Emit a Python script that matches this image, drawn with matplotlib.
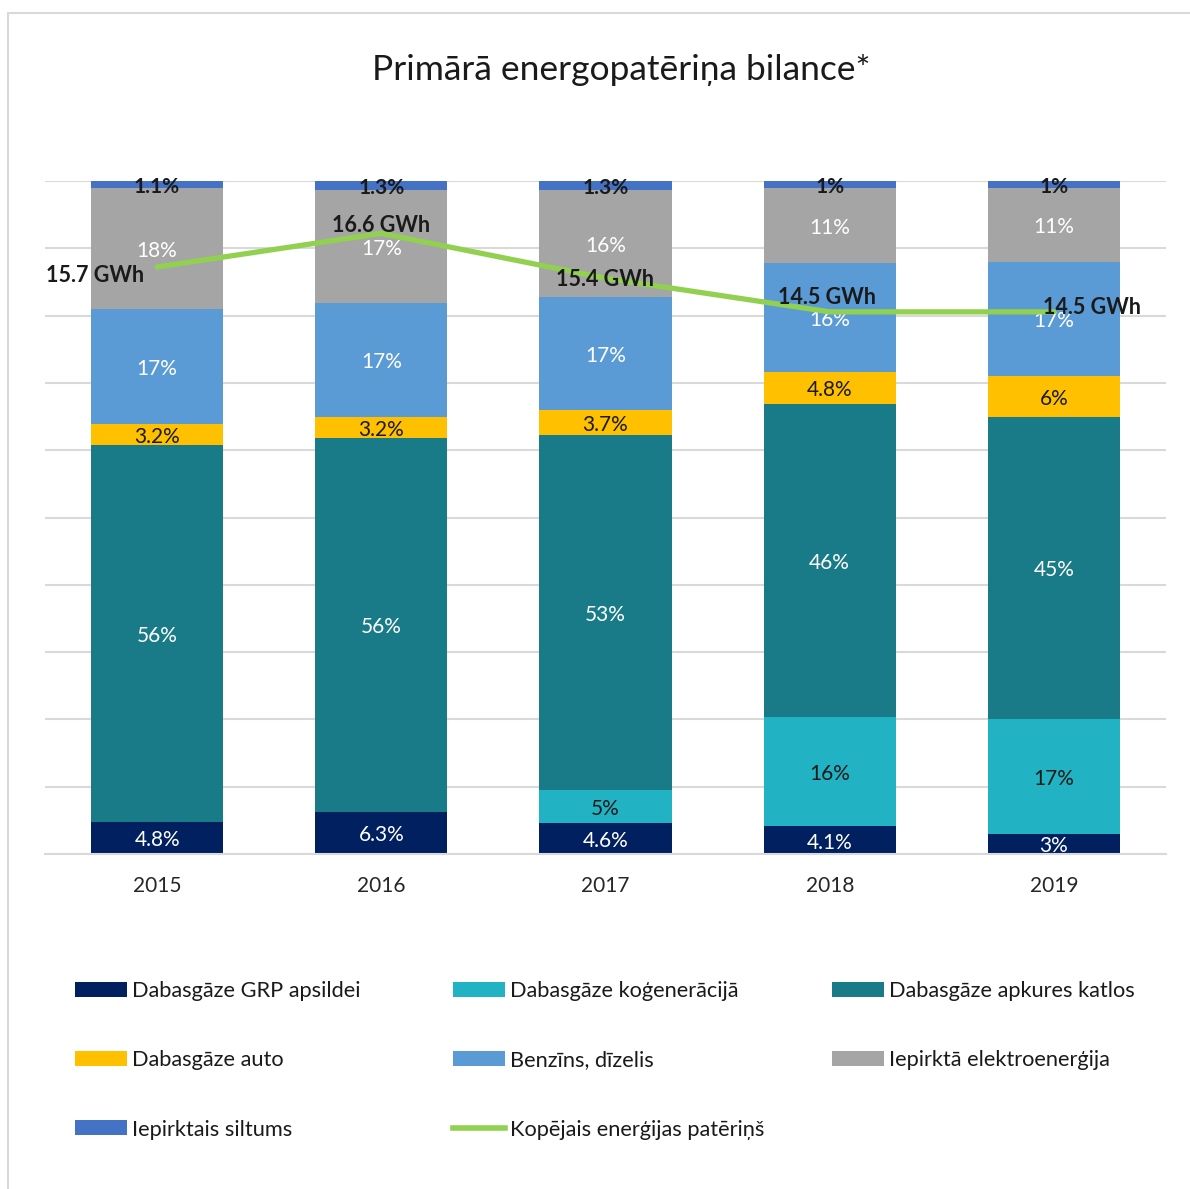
import matplotlib
matplotlib.use("Agg")
import matplotlib.pyplot as plt
import numpy as np
from matplotlib.patches import Patch, Rectangle
from matplotlib.lines import Line2D

plt.rcParams['font.family'] = ['Lato', 'DejaVu Sans']

years = ["2015", "2016", "2017", "2018", "2019"]
series_names = ["Dabasgāze GRP apsildei", "Dabasgāze koģenerācijā", "Dabasgāze apkures katlos",
                "Dabasgāze auto", "Benzīns, dīzelis", "Iepirktā elektroenerģija", "Iepirktais siltums"]
grp = [4.8, 6.3, 4.6, 4.1, 3.0]
kogen = [0, 0, 5, 16, 17]
katlos = [56, 56, 53, 46, 45]
auto = [3.2, 3.2, 3.7, 4.8, 6.0]
benzins = [17, 17, 17, 16, 17]
elektro = [18, 17, 16, 11, 11]
siltums = [1.1, 1.3, 1.3, 1.0, 1.0]
total_gwh = [15.7, 16.6, 15.4, 14.5, 14.5]
line_name = "Kopējais enerģijas patēriņš"

colors = ["#002060", "#21B3C3", "#197B87", "#FFC000", "#5B9BD5", "#A5A5A5", "#4472C4"]
label_colors = ["white", "#1a1a1a", "white", "#1a1a1a", "white", "white", "#1a1a1a"]
label_weights = ["normal"] * 6 + ["bold"]
line_color = "#92D050"
# offsets (points) and alignment for the GWh labels
gwh_offsets = [(-9, -6, "right"), (0, 6, "center"), (0, -1, "center"), (-2, 10, "center"), (-8, 3, "left")]

W, H = 1190, 1189
fig = plt.figure(figsize=(W / 100, H / 100), dpi=100)

# outer frame
fig.patches.append(Rectangle((8 / W, -0.05), 1.2, 1 - 13 / H + 0.05, transform=fig.transFigure,
                             fill=False, edgecolor="#D9D9D9", linewidth=1.5))

ax = fig.add_axes([45 / W, 1 - 854 / H, (1166 - 45) / W, (854 - 181) / H])
data = np.array([grp, kogen, katlos, auto, benzins, elektro, siltums], dtype=float)
norm = data / data.sum(axis=0) * 100
x = np.arange(len(years))
bottom = np.zeros(len(years))
for i in range(len(series_names)):
    ax.bar(x, norm[i], 0.59, bottom=bottom, color=colors[i], zorder=2, label=series_names[i])
    for j in range(len(years)):
        if data[i, j] > 0:
            ax.annotate(f"{data[i, j]:g}%", (x[j], bottom[j] + norm[i, j] / 2), xytext=(0, -1.8),
                        textcoords="offset points", ha="center", va="center",
                        fontsize=15, color=label_colors[i], fontweight=label_weights[i], zorder=5)
    bottom += norm[i]

ax.set_ylim(0, 100)
ax.set_xlim(-0.5, 4.5)
ax.set_yticks(np.arange(0, 101, 10))
ax.set_yticklabels([])
ax.tick_params(axis="y", length=0)
ax.tick_params(axis="x", length=0, pad=16, labelsize=15, labelcolor="#262626")
ax.set_xticks(x)
ax.set_xticklabels(years)
ax.grid(axis="y", color="#D9D9D9", linewidth=1.5, zorder=0)
for s in ["top", "right", "left"]:
    ax.spines[s].set_visible(False)
ax.spines["bottom"].set_color("#D9D9D9")
ax.spines["bottom"].set_linewidth(1.5)

ax2 = ax.twinx()
ax2.set_ylim(0, 18)
ax2.plot(x, total_gwh, color=line_color, linewidth=3.8, solid_capstyle="round", zorder=3)
ax2.axis("off")
for j, v in enumerate(total_gwh):
    dx, dy, ha = gwh_offsets[j]
    ax2.annotate(f"{v:g} GWh", (x[j], v), xytext=(dx, dy), textcoords="offset points",
                 ha=ha, va="center", fontsize=15.5, fontweight="bold", color="#1a1a1a", zorder=6)

fig.text(621 / W, 1 - 70 / H, "Primārā energopatēriņa bilance*", ha="center", va="center",
         fontsize=25.5, color="#1a1a1a")

handles = [Patch(facecolor=c) for c in colors]
line_handle = Line2D([0], [0], color=line_color, linewidth=4)
cols = [([handles[0], handles[3], handles[6]], [series_names[0], series_names[3], series_names[6]], 75),
        ([handles[1], handles[4], line_handle], [series_names[1], series_names[4], line_name], 453),
        ([handles[2], handles[5]], [series_names[2], series_names[5]], 832)]
for hs, ls, xpos in cols:
    leg = fig.legend(hs, ls, loc="upper left", bbox_to_anchor=(xpos / W, 1 - 981 / H),
                     frameon=False, fontsize=15.7, handlelength=2.38, handleheight=0.68,
                     handletextpad=0.23, labelspacing=2.26, borderpad=0, borderaxespad=0,
                     labelcolor="#1a1a1a")

fig.savefig("out.png", dpi=100)
